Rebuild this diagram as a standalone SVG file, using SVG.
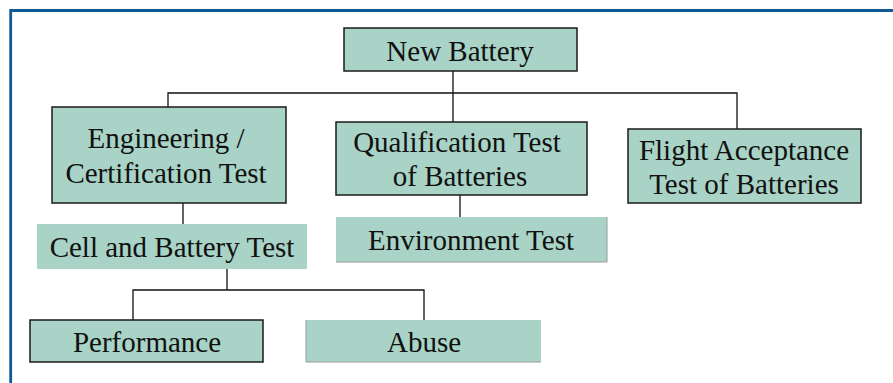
<svg xmlns="http://www.w3.org/2000/svg" width="893" height="383" viewBox="0 0 893 383">
<style>
.box{fill:#a8d3c6;stroke:#1a1a1a;stroke-width:1.5}
.flat{fill:#a8d3c6}
.edge{fill:none;stroke:#9a9a9a;stroke-width:1}
.t{font-family:"Liberation Serif","Times New Roman",serif;font-size:29px;fill:#111;text-anchor:middle}
.c{fill:none;stroke:#111;stroke-width:1.3}
</style>
<rect x="0" y="0" width="893" height="383" fill="#fff"/>
<path d="M10.7 383 V10.5 H893" fill="none" stroke="#0e5a96" stroke-width="2.8"/>
<g id="connectors">
<path class="c" d="M453 71 V93 M168 107 V93 H737 V129 M453 93 V122"/>
<path class="c" d="M183 203 V224"/>
<path class="c" d="M460 195 V217"/>
<path class="c" d="M227 269 V290 M133 320 V290 H424 V320"/>
</g>
<g id="new-battery">
<rect class="box" x="344" y="28" width="233" height="43"/>
<text class="t" x="460" y="61">New Battery</text>
</g>
<g id="engineering">
<rect class="box" x="52" y="107" width="234" height="96"/>
<text class="t" x="166" y="148">Engineering /</text>
<text class="t" x="166" y="183">Certification Test</text>
</g>
<g id="qualification">
<rect class="box" x="336" y="122" width="251" height="73"/>
<text class="t" x="457" y="152">Qualification Test</text>
<text class="t" x="460" y="186">of Batteries</text>
</g>
<g id="flight">
<rect class="box" x="628" y="129" width="233" height="74"/>
<text class="t" x="744" y="160">Flight Acceptance</text>
<text class="t" x="744" y="194">Test of Batteries</text>
</g>
<g id="cell-battery">
<rect class="flat" x="37" y="224" width="270" height="45"/>
<text class="t" x="172" y="257">Cell and Battery Test</text>
</g>
<g id="environment">
<rect class="flat" x="336" y="217" width="271" height="45"/>
<path class="edge" d="M336 262 H607 V217"/>
<text class="t" x="471" y="250">Environment Test</text>
</g>
<g id="performance">
<rect class="box" x="30" y="320" width="233" height="42"/>
<text class="t" x="147" y="352">Performance</text>
</g>
<g id="abuse">
<rect class="flat" x="306" y="320" width="235" height="42"/>
<path class="edge" d="M306 320 V362 H541"/>
<text class="t" x="424" y="352">Abuse</text>
</g>
</svg>
